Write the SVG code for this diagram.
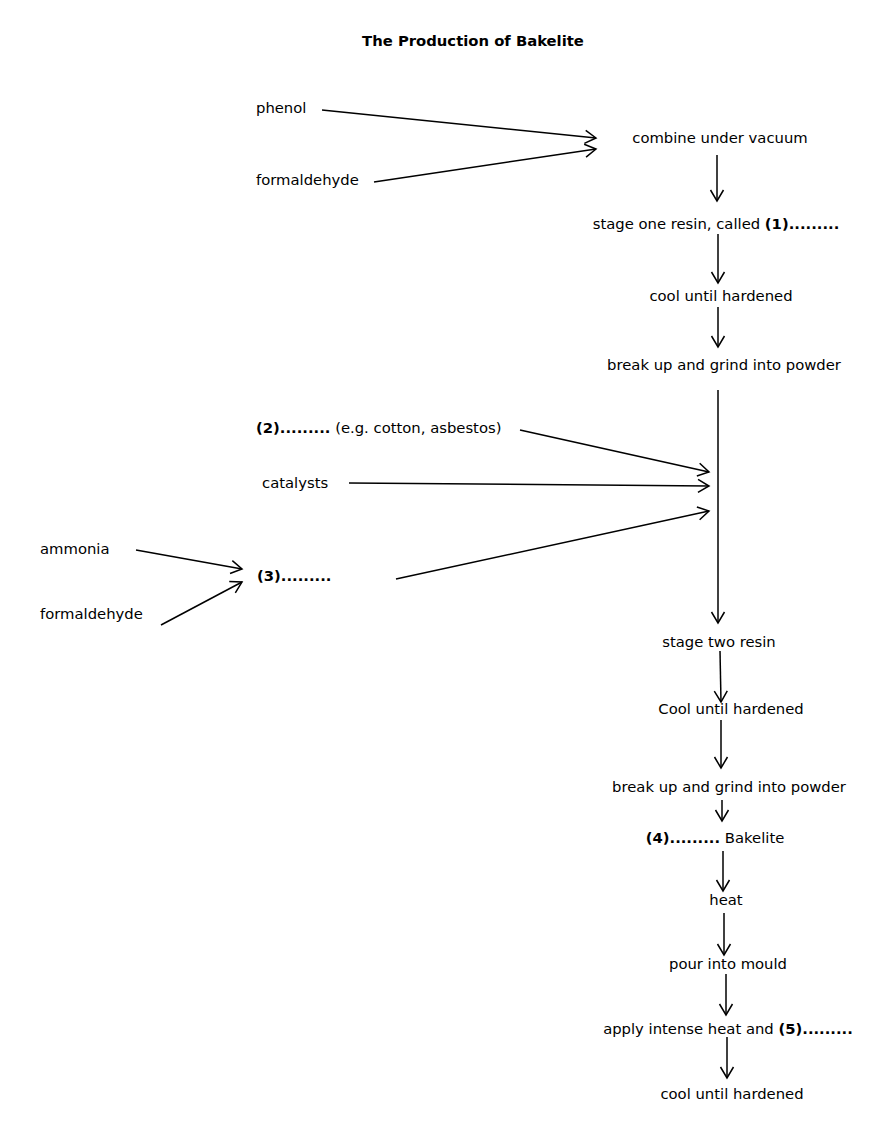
<svg xmlns="http://www.w3.org/2000/svg" width="885" height="1133" viewBox="0 0 885 1133">
<defs>
<marker id="ah" markerUnits="userSpaceOnUse" markerWidth="16" markerHeight="16" viewBox="0 0 16 16" refX="13" refY="8" orient="auto">
<path d="M2,1.5 L13,8 L2,14.5" fill="none" stroke="#000" stroke-width="1.5"/>
</marker>
<style>
text{font-family:"DejaVu Sans",Verdana,sans-serif;font-size:14.8px;fill:#000}
.c{text-anchor:middle}
.b{font-weight:bold}
.conn line{stroke:#000;stroke-width:1.5;marker-end:url(#ah)}
</style>
</defs>
<rect width="885" height="1133" fill="#fff"/>
<text class="c b" x="473" y="46" style="font-size:14.8px">The Production of Bakelite</text>
<g id="phenol"><text x="256" y="113">phenol</text></g>
<g id="formaldehyde1"><text x="256" y="185">formaldehyde</text></g>
<g id="combine"><text class="c" x="720" y="143">combine under vacuum</text></g>
<g id="stage1"><text class="c" x="716" y="229">stage one resin, called <tspan class="b">(1).........</tspan></text></g>
<g id="cool1"><text class="c" x="721" y="301">cool until hardened</text></g>
<g id="grind1"><text class="c" x="724" y="370">break up and grind into powder</text></g>
<g id="filler"><text x="256" y="433"><tspan class="b">(2).........</tspan> (e.g. cotton, asbestos)</text></g>
<g id="catalysts"><text x="262" y="488">catalysts</text></g>
<g id="ammonia"><text x="40" y="554">ammonia</text></g>
<g id="formaldehyde2"><text x="40" y="619">formaldehyde</text></g>
<g id="hexa"><text class="b" x="257" y="581">(3).........</text></g>
<g id="stage2"><text class="c" x="719" y="647">stage two resin</text></g>
<g id="cool2"><text class="c" x="731" y="714">Cool until hardened</text></g>
<g id="grind2"><text class="c" x="729" y="792">break up and grind into powder</text></g>
<g id="bakelite"><text class="c" x="715" y="843"><tspan class="b">(4).........</tspan> Bakelite</text></g>
<g id="heat"><text class="c" x="726" y="905">heat</text></g>
<g id="mould"><text class="c" x="728" y="969">pour into mould</text></g>
<g id="intense"><text class="c" x="728" y="1034">apply intense heat and <tspan class="b">(5).........</tspan></text></g>
<g id="cool3"><text class="c" x="732" y="1099">cool until hardened</text></g>
<g class="conn" id="connectors">
<line x1="322" y1="110" x2="596" y2="138"/>
<line x1="374" y1="182" x2="596" y2="149"/>
<line x1="717" y1="155" x2="717" y2="201"/>
<line x1="718" y1="234" x2="718" y2="283"/>
<line x1="718" y1="307" x2="718" y2="347"/>
<line x1="718" y1="390" x2="718" y2="623"/>
<line x1="520" y1="430" x2="709" y2="472"/>
<line x1="349" y1="483" x2="709" y2="486"/>
<line x1="396" y1="579" x2="709" y2="511"/>
<line x1="136" y1="550" x2="242" y2="569"/>
<line x1="161" y1="625" x2="242" y2="582"/>
<line x1="720" y1="651" x2="721" y2="702"/>
<line x1="721" y1="720" x2="721" y2="768"/>
<line x1="722" y1="800" x2="722" y2="821"/>
<line x1="723" y1="851" x2="723" y2="891"/>
<line x1="724" y1="913" x2="724" y2="955"/>
<line x1="726" y1="974" x2="726" y2="1015"/>
<line x1="727" y1="1037" x2="727" y2="1078"/>
</g>
</svg>
